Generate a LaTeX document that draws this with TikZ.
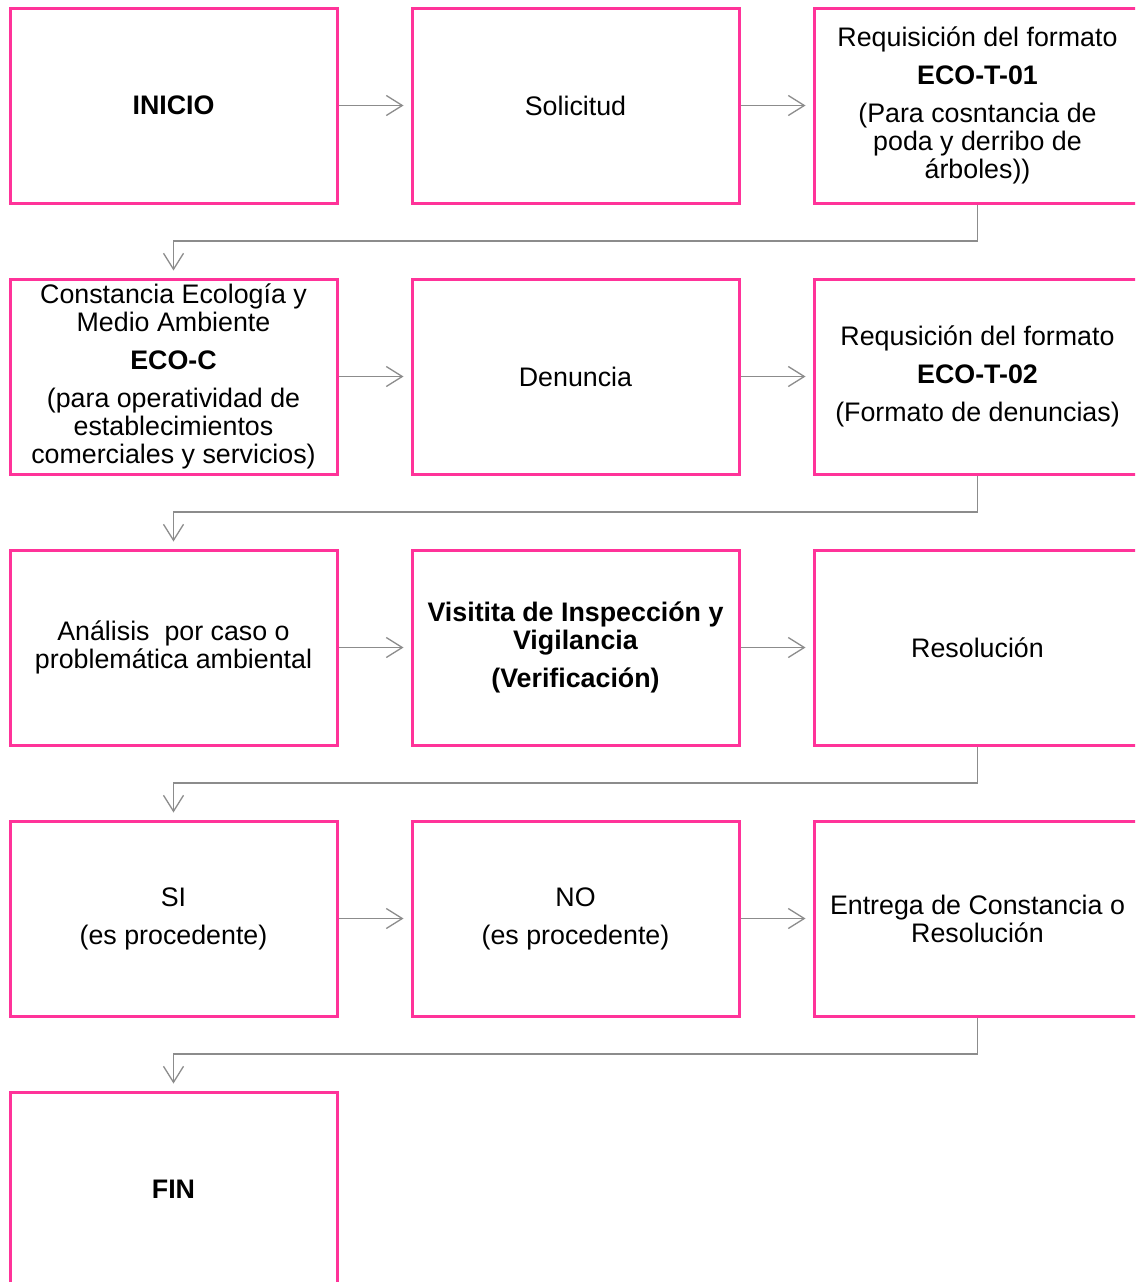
\documentclass[tikz,border=0pt]{standalone}
\usepackage{fontspec}
\setmainfont{Liberation Sans}
\usetikzlibrary{arrows.meta,calc}
\definecolor{boxpink}{HTML}{FF3399}
\definecolor{linegray}{HTML}{8C8C8C}
\begin{document}
\begin{tikzpicture}[x=1pt,y=-1pt,
  stepbox/.style={draw=boxpink, line width=3pt, minimum width=327pt, minimum height=195pt,
    inner sep=0pt, align=center, font=\fontsize{26.8}{28}\selectfont, text=black},
  conn/.style={draw=linegray, line width=1.3pt, -{Straight Barb[length=16pt,width=20pt]}, shorten >=7pt}]
\clip (0,0) rectangle (1135,1282);
\fill[white] (0,0) rectangle (1135,1282);
% row 1
\node[stepbox] (a1) at (173.5,105.5) {\textbf{INICIO}};
\node[stepbox] (a2) at (575.5,105.5) {Solicitud};
\node[stepbox] (a3) at (977.5,105.5) {Requisición del formato\\[10pt]\textbf{ECO-T-01}\\[10pt](Para cosntancia de\\poda y derribo de\\árboles))};
% row 2
\node[stepbox] (b1) at (173.5,376.5) {Constancia Ecología y\\Medio Ambiente\\[10pt]\textbf{ECO-C}\\[10pt](para operatividad de\\establecimientos\\comerciales y servicios)};
\node[stepbox] (b2) at (575.5,376.5) {Denuncia};
\node[stepbox] (b3) at (977.5,376.5) {Requsición del formato\\[10pt]\textbf{ECO-T-02}\\[10pt](Formato de denuncias)};
% row 3
\node[stepbox] (c1) at (173.5,647.5) {Análisis\ \ por caso o\\problemática ambiental};
\node[stepbox] (c2) at (575.5,647.5) {\textbf{Visitita de Inspección y}\\\textbf{Vigilancia}\\[10pt]\textbf{(Verificación)}};
\node[stepbox] (c3) at (977.5,647.5) {Resolución};
% row 4
\node[stepbox] (d1) at (173.5,918.5) {SI\\[10pt](es procedente)};
\node[stepbox] (d2) at (575.5,918.5) {NO\\[10pt](es procedente)};
\node[stepbox] (d3) at (977.5,918.5) {Entrega de Constancia o\\Resolución};
% row 5
\node[stepbox] (e1) at (173.5,1189.5) {\textbf{FIN}};
% horizontal connectors
\draw[conn] (a1.east) -- (a2.west);
\draw[conn] (a2.east) -- (a3.west);
\draw[conn] (b1.east) -- (b2.west);
\draw[conn] (b2.east) -- (b3.west);
\draw[conn] (c1.east) -- (c2.west);
\draw[conn] (c2.east) -- (c3.west);
\draw[conn] (d1.east) -- (d2.west);
\draw[conn] (d2.east) -- (d3.west);
% elbow connectors
\draw[conn] (a3.south) |- ($(a3.south)!0.5!(b3.north)$) -| (b1.north);
\draw[conn] (b3.south) |- ($(b3.south)!0.5!(c3.north)$) -| (c1.north);
\draw[conn] (c3.south) |- ($(c3.south)!0.5!(d3.north)$) -| (d1.north);
\draw[conn] (d3.south) |- ($(d3.south)!0.5!(e1.north)$) -| (e1.north);
\end{tikzpicture}
\end{document}
